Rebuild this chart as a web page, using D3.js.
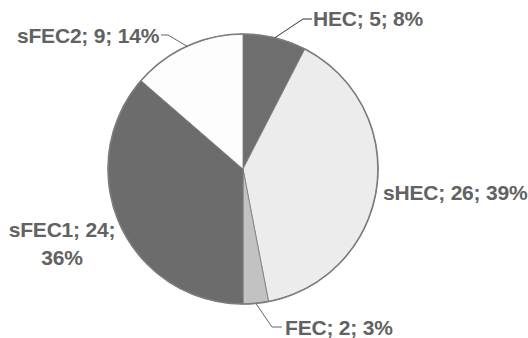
<!DOCTYPE html>
<html><head><meta charset="utf-8">
<script src="https://cdn.jsdelivr.net/npm/d3@7"></script>
<style>html,body{margin:0;padding:0;background:#fff;}svg{display:block;}</style>
</head><body>
<svg id="c" width="528" height="338"></svg>
<script>
const categories = ["HEC", "sHEC", "FEC", "sFEC1", "sFEC2"];
const values = [5, 26, 2, 24, 9];
const percents = ["8%", "39%", "3%", "36%", "14%"];
const fills = ["#6e6e6e", "#ececec", "#c2c2c2", "#6c6c6c", "#fdfdfd"];

// label layout (text anchor points and leader elbows)
const labelLayout = [
  {x: 313, y: 26, anchor: "start", elbow: [[303, 19], [312, 19]]},
  {x: 383, y: 200, anchor: "start", elbow: null},
  {x: 285, y: 335, anchor: "start", elbow: [[272, 327], [282, 327]]},
  {x: 62, y: 237, anchor: "middle", elbow: null, split: true},
  {x: 17, y: 43, anchor: "start", elbow: [[168, 35], [161, 35]]}
];

const svg = d3.select("#c");
const cx = 243, cy = 169, R = 135;
const g = svg.append("g").attr("transform", `translate(${cx},${cy})`);
const pie = d3.pie().sort(null).value(d => d)(values);
const arc = d3.arc().innerRadius(0).outerRadius(R);

g.selectAll("path.slice").data(pie).join("path")
  .attr("class", "slice")
  .attr("d", arc)
  .attr("fill", (d, i) => fills[i])
  .attr("stroke", "#7a7a7a")
  .attr("stroke-width", 0.8);

g.append("circle").attr("r", R).attr("fill", "none")
  .attr("stroke", "#7c7c7c").attr("stroke-width", 1.6);

pie.forEach((d, i) => {
  const L = labelLayout[i];
  const mid = (d.startAngle + d.endAngle) / 2;
  const sx = cx + R * Math.sin(mid), sy = cy - R * Math.cos(mid);
  if (L.elbow) {
    const pts = [[sx, sy], ...L.elbow];
    svg.append("path").attr("d", d3.line()(pts))
      .attr("fill", "none").attr("stroke", i === 0 ? "#333" : "#666")
      .attr("stroke-width", 1);
  }
  const t = svg.append("text").attr("x", L.x).attr("y", L.y)
    .attr("text-anchor", L.anchor)
    .attr("font-family", "Liberation Sans, Arial, sans-serif")
    .attr("font-weight", "bold").attr("font-size", 21)
    .attr("letter-spacing", -0.2)
    .attr("fill", "#626262");
  if (L.split) {
    t.append("tspan").attr("x", L.x).text(`${categories[i]}; ${values[i]};`);
    t.append("tspan").attr("x", L.x).attr("dy", 28).text(percents[i]);
  } else {
    t.text(`${categories[i]}; ${values[i]}; ${percents[i]}`);
  }
});
</script>
</body></html>
